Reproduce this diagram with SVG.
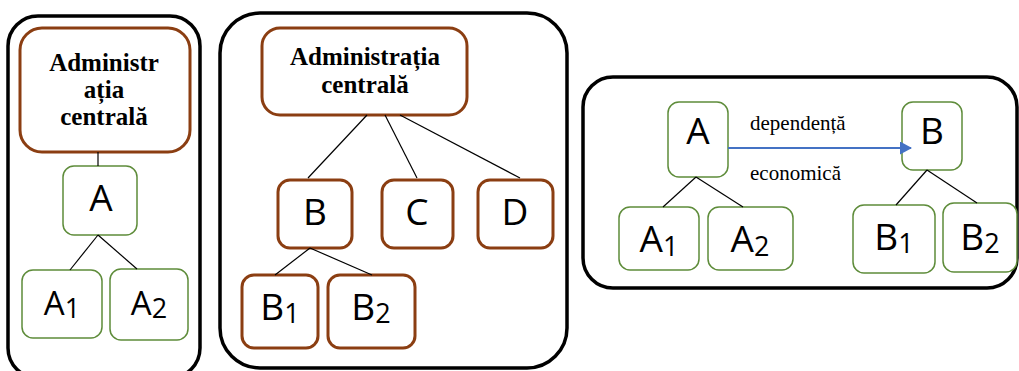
<svg xmlns="http://www.w3.org/2000/svg" width="1019" height="371" viewBox="0 0 1019 371">
<style>
.panel{fill:#fff;stroke:#000;stroke-width:3.5}
.brown{fill:#fff;stroke:#8B3E12;stroke-width:3}
.green{fill:#fff;stroke:#5E8C3A;stroke-width:1.5}
.edge{stroke:#000;stroke-width:1.2;fill:none}
.ser{font-family:"Liberation Serif",serif;font-weight:bold;font-size:25px;text-anchor:middle;fill:#000}
.lab{font-family:"Open Sans","Liberation Sans",sans-serif;font-size:37px;text-anchor:middle;fill:#000}
.lab2{font-family:"Open Sans","Liberation Sans",sans-serif;font-size:33px;text-anchor:middle;fill:#000}
.sub{font-size:27px}
.note{font-family:"Liberation Serif",serif;font-size:21px;fill:#000}
</style>
<defs>
<marker id="ah" markerWidth="12" markerHeight="13" refX="11" refY="6.5" orient="auto" markerUnits="userSpaceOnUse">
<path d="M0,0 L12,6.5 L0,13 z" fill="#4472C4"/>
</marker>
</defs>
<rect width="1019" height="371" fill="#fff"/>
<g id="panel1">
<rect class="panel" x="8" y="16" width="192" height="362" rx="30"/>
</g>
<g id="panel2">
<rect class="panel" x="220" y="13" width="347" height="355" rx="40"/>
</g>
<g id="panel3">
<rect class="panel" x="583" y="77" width="434" height="211" rx="30"/>
</g>
<g id="admin1">
<rect class="brown" x="20" y="28" width="170" height="124" rx="22"/>
<text class="ser" x="104" y="71">Administr</text>
<text class="ser" x="104" y="98">ația</text>
<text class="ser" x="104" y="125">centrală</text>
</g>
<g id="p1A">
<rect class="green" x="63" y="166" width="74" height="69" rx="11"/>
<text class="lab" x="101" y="211">A</text>
</g>
<g id="p1A1">
<rect class="green" x="22" y="270" width="80" height="68" rx="11"/>
<text class="lab2" x="62" y="315">A<tspan class="sub" dy="3">1</tspan></text>
</g>
<g id="p1A2">
<rect class="green" x="110" y="269" width="78" height="71" rx="11"/>
<text class="lab2" x="149" y="315">A<tspan class="sub" dy="3">2</tspan></text>
</g>
<g id="admin2">
<rect class="brown" x="262" y="28" width="205" height="87" rx="18"/>
<text class="ser" x="365" y="65">Administrația</text>
<text class="ser" x="365" y="93">centrală</text>
</g>
<g id="p2B">
<rect class="brown" x="278" y="180" width="74" height="68" rx="12"/>
<text class="lab" x="315" y="225">B</text>
</g>
<g id="p2C">
<rect class="brown" x="382" y="180" width="71" height="68" rx="12"/>
<text class="lab" x="417" y="225">C</text>
</g>
<g id="p2D">
<rect class="brown" x="478" y="180" width="75" height="68" rx="12"/>
<text class="lab" x="515" y="225">D</text>
</g>
<g id="p2B1">
<rect class="brown" x="242" y="275" width="76" height="73" rx="12"/>
<text class="lab" x="280" y="320">B<tspan class="sub" dy="3">1</tspan></text>
</g>
<g id="p2B2">
<rect class="brown" x="328" y="275" width="87" height="73" rx="12"/>
<text class="lab" x="371" y="320">B<tspan class="sub" dy="3">2</tspan></text>
</g>
<g id="p3A">
<rect class="green" x="668" y="102" width="60" height="75" rx="11"/>
<text class="lab" x="698" y="144">A</text>
</g>
<g id="p3B">
<rect class="green" x="902" y="102" width="60" height="68" rx="11"/>
<text class="lab" x="932" y="144">B</text>
</g>
<g id="p3A1">
<rect class="green" x="619" y="207" width="80" height="63" rx="11"/>
<text class="lab" x="659" y="252">A<tspan class="sub" dy="4">1</tspan></text>
</g>
<g id="p3A2">
<rect class="green" x="708" y="207" width="85" height="63" rx="11"/>
<text class="lab" x="750" y="252">A<tspan class="sub" dy="4">2</tspan></text>
</g>
<g id="p3B1">
<rect class="green" x="853" y="205" width="82" height="68" rx="11"/>
<text class="lab" x="894" y="250">B<tspan class="sub" dy="3">1</tspan></text>
</g>
<g id="p3B2">
<rect class="green" x="943" y="203" width="74" height="69" rx="11"/>
<text class="lab" x="980" y="250">B<tspan class="sub" dy="3">2</tspan></text>
</g>
<g id="labels">
<text class="note" x="750" y="130">dependență</text>
<text class="note" x="750" y="180">economică</text>
</g>
<g id="connectors">
<line class="edge" x1="98" y1="152" x2="98" y2="166"/>
<line class="edge" x1="98" y1="235" x2="70" y2="270"/>
<line class="edge" x1="98" y1="235" x2="137" y2="269"/>
<line class="edge" x1="367" y1="115" x2="308" y2="178"/>
<line class="edge" x1="385" y1="115" x2="417" y2="178"/>
<line class="edge" x1="400" y1="115" x2="520" y2="178"/>
<line class="edge" x1="310" y1="248" x2="275" y2="275"/>
<line class="edge" x1="310" y1="248" x2="372" y2="275"/>
<line class="edge" x1="696" y1="177" x2="663" y2="207"/>
<line class="edge" x1="696" y1="177" x2="743" y2="207"/>
<line class="edge" x1="927" y1="170" x2="896" y2="205"/>
<line class="edge" x1="927" y1="170" x2="977" y2="203"/>
<line x1="728" y1="148" x2="911" y2="148" stroke="#4472C4" stroke-width="1.8" marker-end="url(#ah)"/>
</g>
</svg>
